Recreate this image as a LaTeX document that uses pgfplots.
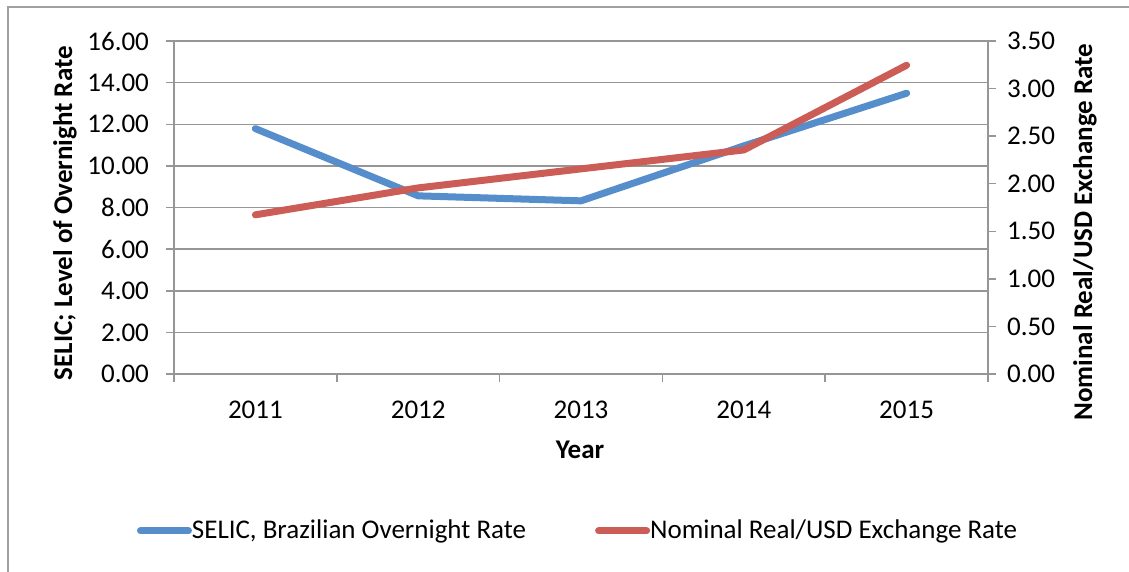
\documentclass[border=0pt]{standalone}
\usepackage{fontspec}
\setmainfont{Carlito}
\usepackage{pgfplots}
\pgfplotsset{compat=1.18}

\definecolor{selicblue}{RGB}{86,141,203}
\definecolor{fxred}{RGB}{204,92,86}
\definecolor{axgray}{RGB}{150,150,150}
\definecolor{framegray}{RGB}{160,160,160}

\pgfplotsset{
  common/.style={
    scale only axis,
    width=407pt, height=166.5pt,
    at={(87pt,-187pt)}, anchor=south west,
    xmin=-0.5, xmax=4.5,
    ymin=0,
    font=\fontsize{13.5}{16}\selectfont,
    /pgf/number format/assume math mode=true,
    tick align=outside,
    major tick length=4pt,
    tick style={axgray, line width=0.75pt},
    axis line style={axgray, line width=0.75pt},
    clip=false,
  },
}

\begin{document}
\begin{tikzpicture}
\useasboundingbox (0,0) rectangle (564.5pt,-286pt);
\begin{scope}
\clip (0,0) rectangle (564.5pt,-286pt);
\draw[framegray, line width=1pt] (4pt,-300pt) -- (4pt,-3.5pt) -- (580pt,-3.5pt);
\end{scope}

\begin{axis}[common,
  axis x line*=bottom, axis y line*=left,
  ymax=16, ytick={0,2,...,16},
  yticklabel style={xshift=-5pt, /pgf/number format/.cd, fixed, fixed zerofill, precision=2},
  ymajorgrids, grid style={axgray, line width=0.75pt},
  xtick={-0.5,0.5,...,4.5},
  xticklabels={2011,2012,2013,2014,2015},
  x tick label as interval,
  xticklabel style={yshift=-6pt},
  ylabel={\bfseries SELIC; Level of Overnight Rate},
  ylabel style={at={(axis description cs:-0.134,0.483)}, anchor=center, rotate=0},
  xlabel={\bfseries Year},
  xlabel style={at={(axis description cs:0.4988,-0.228)}, anchor=center},
  legend style={draw=none, fill=none, at={(axis description cs:-0.046,-0.471)}, anchor=west,
    legend columns=2, inner sep=0pt,
    /tikz/every even column/.append style={column sep=34.5pt},
    nodes={inner sep=0pt}, cells={anchor=west}},
  legend image code/.code={\draw[#1] (0pt,0pt) -- (24pt,0pt);},
]
\addplot[selicblue, line width=3.5pt, line cap=round, line join=round] coordinates {
  (0,11.79) (1,8.56) (2,8.32) (3,10.96) (4,13.49)
};
\addlegendentry{SELIC, Brazilian Overnight Rate}
\addlegendimage{fxred, line width=3.5pt, line cap=round}
\addlegendentry{Nominal Real/USD Exchange Rate}
\end{axis}

\begin{axis}[common,
  axis y line*=right, axis x line=none,
  ymax=3.5, ytick={0,0.5,...,3.5},
  yticklabel style={xshift=2pt, /pgf/number format/.cd, fixed, fixed zerofill, precision=2},
  ylabel={\bfseries Nominal Real/USD Exchange Rate},
  ylabel style={at={(axis description cs:1.119,0.426)}, anchor=center, rotate=0},
]
\addplot[fxred, line width=3.5pt, line cap=round, line join=round] coordinates {
  (0,1.673) (1,1.956) (2,2.156) (3,2.355) (4,3.245)
};
\end{axis}
\end{tikzpicture}
\end{document}
